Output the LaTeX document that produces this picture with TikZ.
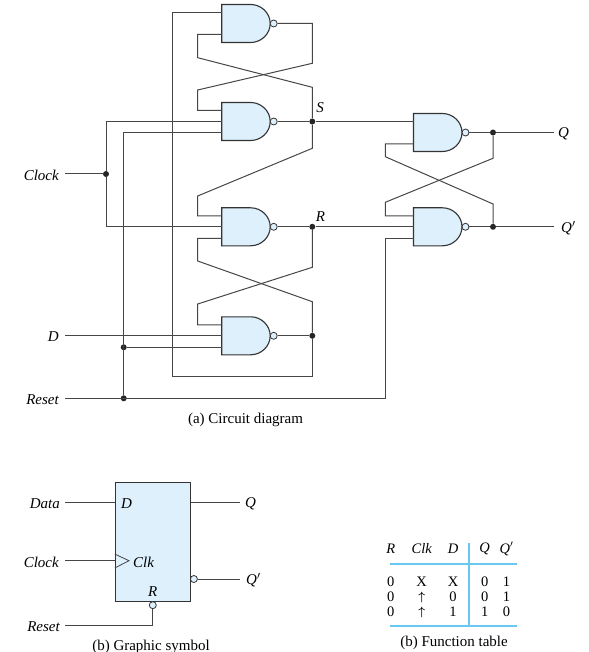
\documentclass[tikz,border=0pt]{standalone}
\usepackage{amsmath}
\usepackage{fontspec}
\setmainfont{Liberation Serif}
\usepackage{tikz}
\definecolor{gateblue}{RGB}{222, 240, 252}
\definecolor{wiregray}{RGB}{70, 70, 70}
\definecolor{tablecyan}{RGB}{105, 200, 240}
\newcommand{\clkup}{{\fontsize{12}{12}\selectfont$\boldsymbol{\uparrow}$}}
\tikzset{
  wire/.style={wiregray, line width=1pt, line join=miter},
  gatebody/.style={draw=black!80, fill=gateblue, line width=1.1pt},
  bubble/.style={circle, draw=black!80, fill=gateblue, line width=0.8pt, inner sep=0pt, minimum size=7pt},
  junction/.style={circle, fill=black!85, inner sep=0pt, minimum size=6pt},
  sig/.style={font=\fontsize{15}{15}\selectfont\itshape, inner sep=0pt, yshift=-1pt},
  caption/.style={font=\fontsize{15}{15}\selectfont, inner sep=0pt, yshift=-1pt},
  cell/.style={font=\fontsize{14.5}{14.5}\selectfont, inner sep=0pt, yshift=-1pt},
  head/.style={font=\fontsize{14.5}{14.5}\selectfont\itshape, inner sep=0pt, yshift=-1pt},
  rule/.style={tablecyan, line width=1.3pt}
}
% name, left x, top y
\newcommand{\nandgate}[3]{
  \draw[gatebody] (#2,#3) -- (#2+29,#3) .. controls (#2+39.5,#3) and (#2+48.5,#3+8.5) .. (#2+48.5,#3+19)
    .. controls (#2+48.5,#3+29.5) and (#2+39.5,#3+38) .. (#2+29,#3+38) -- (#2,#3+38) -- cycle;
  \node[bubble] (#1n) at (#2+52,#3+19) {};
  \coordinate (#1a) at (#2,#3+8);
  \coordinate (#1b) at (#2,#3+19);
  \coordinate (#1c) at (#2,#3+30.5);
}
\begin{document}
\begin{tikzpicture}[x=1pt, y=-1pt]
  \useasboundingbox (0,0) rectangle (588,652);
  % gates
  \nandgate{gA}{221.7}{4.5}
  \nandgate{gB}{221.7}{102.5}
  \nandgate{gC}{221.7}{207.8}
  \nandgate{gD}{221.7}{316.8}
  \nandgate{gE}{413.5}{113.5}
  \nandgate{gF}{413.5}{207.8}
  % junctions
  \node[junction] (jS) at (312.3,121.5) {};
  \node[junction] (jR) at (312.3,226.8) {};
  \node[junction] (jO) at (312.3,335.8) {};
  \node[junction] (jQ) at (493,132.5) {};
  \node[junction] (jP) at (493,226.8) {};
  \node[junction] (jClock) at (106,174) {};
  \node[junction] (jD) at (123.7,347.3) {};
  \node[junction] (jReset) at (123.7,398.3) {};
  % left labels
  \node[sig, anchor=east] (lClock) at (59,174) {Clock};
  \node[sig, anchor=east] (lD) at (59,335.8) {D};
  \node[sig, anchor=east] (lReset) at (59,398.3) {Reset};
  \node[sig] (lS) at (320,106.5) {S};
  \node[sig] (lR) at (320.5,216) {R};
  \node[sig, anchor=west] (lQ) at (558,132.5) {Q};
  \node[sig, anchor=west] (lP) at (561,226.8) {Q$'$};
  \coordinate (cClock) at (65,174);
  \coordinate (cD) at (65,335.8);
  \coordinate (cReset) at (65,398.3);
  \coordinate (cQ) at (554,132.5);
  \coordinate (cP) at (554,226.8);
  % latch A-B
  \draw[wire] (gAn.east) -- (312.3,23.5) -- (312.3,63.3) -- (197.7,90) -- (197.7,110.5) -- (gBa);
  \draw[wire] (gAb |- 0,34.5) -- (197.7,34.5) -- (197.7,57.7) -- (312.3,87.3) -- (jS);
  % long loop
  \draw[wire] (gAa) -- (172.7,12.5) -- (172.7,376.7) -- (312.3,376.7) -- (jO);
  \draw[wire] (jO) -- (312.3,301.7) -- (197.7,261) -- (197.7,238.3) -- (gCc);
  % S and R
  \draw[wire] (gBn.east) -- (jS) -- (gEa);
  \draw[wire] (jS) -- (312.3,148.3) -- (197.7,196) -- (197.7,215.8) -- (gCa);
  \draw[wire, line width=1.3pt] (gCn.east) -- (jR);
  \draw[wire] (jR) -- (gFb);
  \draw[wire] (jR) -- (312.3,267.3) -- (197.7,304) -- (197.7,324.8) -- (gDa);
  \draw[wire] (gDn.east) -- (jO);
  % inputs
  \draw[wire] (cClock) -- (jClock);
  \draw[wire] (jClock) -- (106,121.5) -- (gBb);
  \draw[wire] (jClock) -- (106,226.8) -- (gCb);
  \draw[wire] (cD) -- (gDb);
  \draw[wire] (jD) -- (gDc);
  \draw[wire] (jReset) -- (123.7,133) -- (gBc);
  \draw[wire] (cReset) -- (385.7,398.3) -- (385.7,238.3) -- (gFc);
  % output latch
  \draw[wire] (gEn.east) -- (jQ) -- (cQ);
  \draw[wire] (gFn.east) -- (jP) -- (cP);
  \draw[wire] (jQ) -- (493,158.3) -- (385.3,202.3) -- (385.3,215.8) -- (gFa);
  \draw[wire] (gEc) -- (385.3,144) -- (385.3,156.7) -- (493,204) -- (jP);
  \node[caption] (capA) at (245.5,418.5) {(a) Circuit diagram};
  % symbol
  \node[draw=black!80, fill=gateblue, line width=1.1pt, minimum width=75pt, minimum height=119.7pt, inner sep=0pt] (ff) at (152.8,541.9) {};
  \draw[wiregray, line width=0.8pt] (ff.west |- 0,554) -- (129,560.7) -- (ff.west |- 0,568);
  \node[bubble] (bP) at (193.9,579) {};
  \node[bubble] (bR) at (152.8,605.2) {};
  \node[sig] (tD) at (126.5,502.5) {D};
  \node[sig, anchor=west] (tClk) at (133,561) {Clk};
  \node[sig] (tR) at (152.8,590.5) {R};
  \node[sig, anchor=east] (lData) at (60,502.7) {Data};
  \node[sig, anchor=east] (lClock2) at (59,561.5) {Clock};
  \node[sig, anchor=east] (lReset2) at (60,625.3) {Reset};
  \node[sig, anchor=west] (lQ2) at (245,502.7) {Q};
  \node[sig, anchor=west] (lP2) at (246,579) {Q$'$};
  \draw[wire] (65,502.7) -- (ff.west |- 0,502.7);
  \draw[wire] (65,560.7) -- (ff.west |- 0,560.7);
  \draw[wire] (65,625.3) -- (152.8,625.3) -- (bR);
  \draw[wire] (ff.east |- 0,502.7) -- (240,502.7);
  \draw[wire] (bP) -- (240,579);
  \node[caption] (capB) at (151,645.5) {(b) Graphic symbol};
  % table
  \draw[rule] (390,564) -- (517,564);
  \draw[rule] (390,626) -- (517,626);
  \draw[rule] (469,542.7) -- (469,626);
  \foreach \colx/\coltext/\colname in {390.7/R/hR, 421.7/Clk/hClk, 453/D/hD, 484.7/Q/hQ, 506.5/Q$'$/hP}
    \node[head] (\colname) at (\colx,548) {\coltext};
  \foreach \rowy/\rowa/\rowb/\rowc/\rowd/\rowe/\rowname in {581/0/X/X/0/1/rA, 596/0/\clkup/0/0/1/rB, 611/0/\clkup/1/1/0/rC} {
    \node[cell] (\rowname a) at (390.7,\rowy) {\rowa};
    \node[cell] (\rowname b) at (421.7,\rowy) {\rowb};
    \node[cell] (\rowname c) at (453,\rowy) {\rowc};
    \node[cell] (\rowname d) at (484.7,\rowy) {\rowd};
    \node[cell] (\rowname e) at (506.5,\rowy) {\rowe};
  }
  \node[caption] (capC) at (454,642) {(b) Function table};
\end{tikzpicture}
\end{document}
